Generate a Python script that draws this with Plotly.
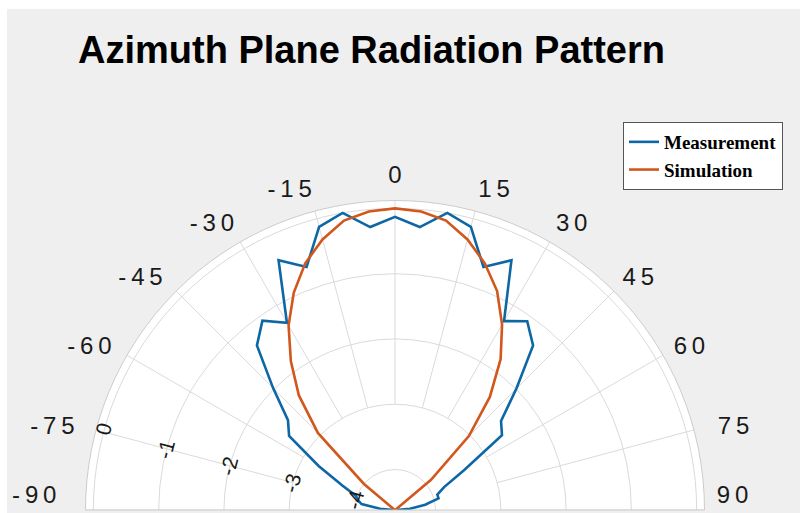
import plotly.graph_objects as go

# Azimuth angles (deg) and normalised gain (dB)
angles = list(range(-90, 91, 5))
measurement = [
    -4.60, -4.39, -4.10, -4.03, -3.98, -3.73, -3.27, -2.64, -2.48, -1.98,
    -1.33, -1.08, -1.31, -0.40, -0.66, -0.13, 0.00, -0.27, -0.13,
    -0.27, 0.00, -0.13, -0.66, -0.40, -1.28, -1.09, -1.33, -1.99,
    -2.50, -2.62, -3.40, -3.79, -3.93, -3.93, -4.15, -4.39, -4.60,
]
simulation = [
    -4.60, -4.60, -4.60, -4.60, -4.60, -4.60, -4.60, -4.60, -4.00, -2.95,
    -2.33, -1.84, -1.36, -0.95, -0.60, -0.33, -0.12, -0.03, 0.00,
    -0.03, -0.12, -0.33, -0.60, -0.92, -1.34, -1.80, -2.36, -3.02,
    -3.90, -4.60, -4.60, -4.60, -4.60, -4.60, -4.60, -4.60, -4.60,
]

angle_ticks = list(range(-90, 91, 15))
radial_ticks = [0, -1, -2, -3, -4]
r_min, r_max = -4.62, 0.12
spoke_start = -3
radial_label_angle = -75

GRID = "#dadada"
EDGE = "#cccccc"
BLUE = "#0e67a5"
ORANGE = "#d2571c"
THIN = "\u2009"
EN = "\u2002"

# extra padding per label to push the side labels a little further out
label_pad = {-90: ("", EN + THIN), -75: ("", THIN + THIN), -60: ("", THIN),
             -45: ("", THIN), 75: (EN, "")}


def angle_label(a):
    text = THIN.join(str(a))
    lead, trail = label_pad.get(a, ("", ""))
    text = lead + text + trail
    # the end labels sit on the base line, lift them above it
    if abs(a) == 90:
        text += "<br> "
    return text


fig = go.Figure()

# angular spokes, starting from the -3 dB ring
for a in angle_ticks:
    fig.add_trace(go.Scatterpolar(
        theta=[a, a], r=[spoke_start, r_max], mode="lines",
        line=dict(color=GRID, width=1), showlegend=False, hoverinfo="skip",
    ))

fig.add_trace(go.Scatterpolar(
    theta=angles, r=measurement, mode="lines", name="Measurement",
    line=dict(color=BLUE, width=2.6),
))
fig.add_trace(go.Scatterpolar(
    theta=angles, r=simulation, mode="lines", name="Simulation",
    line=dict(color=ORANGE, width=2.6),
))
# second, transparent polar frame that only carries the radial labels
fig.add_trace(go.Scatterpolar(
    theta=[radial_label_angle], r=[r_min], mode="markers",
    marker=dict(opacity=0), showlegend=False, hoverinfo="skip",
    subplot="polar2",
))

main_x = [85.5 / 800, 704.5 / 800]
main_y = [3 / 513, 312.5 / 513]
shift_x, shift_y = 3 / 800, 12 / 513

fig.update_layout(
    width=800, height=513,
    margin=dict(l=0, r=0, t=0, b=0),
    paper_bgcolor="white",
    shapes=[dict(type="rect", xref="paper", yref="paper",
                 x0=7 / 800, x1=1, y0=0, y1=1 - 9 / 513,
                 fillcolor="#efefef", line=dict(width=0), layer="below")],
    title=dict(text="Azimuth Plane Radiation Pattern",
               x=78 / 800, xanchor="left", y=1 - 50 / 513, yanchor="middle",
               font=dict(family="Liberation Sans", size=38, color="black",
                         weight="bold")),
    polar=dict(
        domain=dict(x=main_x, y=main_y),
        sector=[0, 180],
        bgcolor="white",
        angularaxis=dict(
            rotation=90, direction="clockwise",
            tickmode="array", tickvals=angle_ticks,
            ticktext=[angle_label(a) for a in angle_ticks],
            showgrid=False, showline=True, linecolor=EDGE, linewidth=1,
            ticks="outside", ticklen=7, tickcolor="rgba(0,0,0,0)",
            tickfont=dict(family="Liberation Sans", size=24, color="#1a1a1a"),
        ),
        radialaxis=dict(
            range=[r_min, r_max], angle=165,
            tickmode="array", tickvals=radial_ticks,
            showticklabels=False,
            showgrid=True, gridcolor=GRID, gridwidth=1,
            showline=False, ticks="",
        ),
    ),
    polar2=dict(
        domain=dict(x=[main_x[0] + shift_x, main_x[1] + shift_x],
                    y=[main_y[0] + shift_y, main_y[1] + shift_y]),
        sector=[0, 180],
        bgcolor="rgba(0,0,0,0)",
        angularaxis=dict(
            rotation=90, direction="clockwise",
            showgrid=False, showline=False, showticklabels=False, ticks="",
        ),
        radialaxis=dict(
            range=[r_min, r_max], angle=165, side="counterclockwise",
            tickangle=90,
            tickmode="array", tickvals=radial_ticks,
            ticktext=[str(v) for v in radial_ticks],
            showgrid=False, showline=False, ticks="",
            tickfont=dict(family="Liberation Sans", size=21, color="#1a1a1a"),
        ),
    ),
    legend=dict(
        x=623 / 800, y=1 - 122 / 513, xanchor="left", yanchor="top",
        bgcolor="white", bordercolor="#555555", borderwidth=1,
        font=dict(family="Liberation Serif", size=19, color="black",
                  weight="bold"),
        itemwidth=30, tracegroupgap=0,
    ),
)

fig.write_html("out.html")
